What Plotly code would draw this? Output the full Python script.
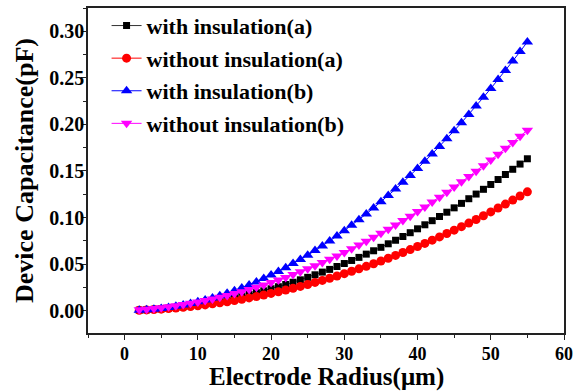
import plotly.graph_objects as go

# Electrode radius (um)
radius = list(range(2, 56))

# Device capacitance (pF)
cap_ins_a = [0.0005, 0.0009, 0.0014, 0.0020, 0.0027, 0.0036, 0.0045, 0.0055, 0.0066, 0.0078,
             0.0092, 0.0106, 0.0121, 0.0138, 0.0155, 0.0173, 0.0193, 0.0213, 0.0235, 0.0257,
             0.0281, 0.0305, 0.0331, 0.0358, 0.0385, 0.0414, 0.0443, 0.0474, 0.0506, 0.0539,
             0.0572, 0.0607, 0.0643, 0.0680, 0.0718, 0.0756, 0.0796, 0.0837, 0.0879, 0.0922,
             0.0966, 0.1011, 0.1057, 0.1104, 0.1152, 0.1202, 0.1252, 0.1303, 0.1355, 0.1408,
             0.1462, 0.1518, 0.1574, 0.1631]
cap_noins_a = [0.0004, 0.0008, 0.0012, 0.0016, 0.0022, 0.0029, 0.0036, 0.0044, 0.0053, 0.0062,
               0.0073, 0.0084, 0.0096, 0.0109, 0.0123, 0.0137, 0.0152, 0.0168, 0.0185, 0.0203,
               0.0221, 0.0240, 0.0260, 0.0281, 0.0303, 0.0325, 0.0348, 0.0372, 0.0397, 0.0423,
               0.0449, 0.0476, 0.0504, 0.0533, 0.0563, 0.0593, 0.0624, 0.0656, 0.0689, 0.0722,
               0.0757, 0.0792, 0.0828, 0.0864, 0.0902, 0.0940, 0.0979, 0.1019, 0.1060, 0.1102,
               0.1144, 0.1187, 0.1231, 0.1276]
cap_ins_b = [0.0004, 0.0009, 0.0015, 0.0024, 0.0034, 0.0047, 0.0061, 0.0077, 0.0095, 0.0115,
             0.0137, 0.0161, 0.0187, 0.0215, 0.0244, 0.0276, 0.0309, 0.0344, 0.0382, 0.0421,
             0.0462, 0.0505, 0.0550, 0.0596, 0.0645, 0.0695, 0.0748, 0.0802, 0.0859, 0.0917,
             0.0977, 0.1039, 0.1103, 0.1169, 0.1236, 0.1306, 0.1378, 0.1451, 0.1526, 0.1604,
             0.1683, 0.1764, 0.1847, 0.1932, 0.2019, 0.2107, 0.2198, 0.2291, 0.2385, 0.2481,
             0.2580, 0.2680, 0.2782, 0.2886]
cap_noins_b = [0.0009, 0.0016, 0.0023, 0.0032, 0.0042, 0.0053, 0.0065, 0.0079, 0.0093, 0.0109,
               0.0126, 0.0144, 0.0163, 0.0183, 0.0204, 0.0227, 0.0251, 0.0276, 0.0302, 0.0329,
               0.0357, 0.0387, 0.0417, 0.0449, 0.0482, 0.0516, 0.0551, 0.0588, 0.0625, 0.0664,
               0.0704, 0.0745, 0.0787, 0.0830, 0.0875, 0.0920, 0.0967, 0.1015, 0.1064, 0.1114,
               0.1166, 0.1218, 0.1272, 0.1327, 0.1383, 0.1440, 0.1498, 0.1557, 0.1618, 0.1680,
               0.1743, 0.1807, 0.1872, 0.1938]

series_names = ["with insulation(a)", "without insulation(a)",
                "with insulation(b)", "without insulation(b)"]

x_title = "Electrode Radius(μm)"
y_title = "Device Capacitance(pF)"

FONT = "Liberation Serif, Times New Roman, serif"
AXIS_COLOR = "#222222"

styles = [
    dict(color="black", line="#333333", symbol="square", size=7),
    dict(color="red", line="red", symbol="circle", size=9),
    dict(color="blue", line="blue", symbol="triangle-up", size=10),
    dict(color="magenta", line="magenta", symbol="triangle-down", size=10),
]

fig = go.Figure()
for i, (name, ys, st) in enumerate(zip(series_names,
                                       [cap_ins_a, cap_noins_a, cap_ins_b, cap_noins_b],
                                       styles)):
    fig.add_trace(go.Scatter(
        x=radius, y=ys, name=name, mode="lines+markers",
        legendgroup=f"g{i}",
        line=dict(color=st["line"], width=1),
        marker=dict(color=st["color"], symbol=st["symbol"], size=st["size"],
                    line=dict(width=0)),
    ))

axis_common = dict(
    showgrid=False, zeroline=False,
    showline=True, linecolor=AXIS_COLOR, linewidth=1.5, mirror=True,
    ticks="outside", ticklen=5, tickwidth=1.2, tickcolor=AXIS_COLOR,
)

fig.update_xaxes(
    range=[-5, 60], tick0=0, dtick=10,
    tickfont=dict(family=FONT, size=18, color="black", weight="bold"),
    ticklabelstandoff=-1,
    minor=dict(ticks="outside", ticklen=3, tickwidth=1.2, tickcolor=AXIS_COLOR, dtick=5, tick0=0),
    **axis_common,
)
fig.update_yaxes(
    range=[-0.024, 0.325], tick0=0, dtick=0.05, tickformat=".2f",
    tickfont=dict(family=FONT, size=20, color="black", weight="bold"),
    ticklabelstandoff=-7,
    minor=dict(ticks="outside", ticklen=3, tickwidth=1.2, tickcolor=AXIS_COLOR, dtick=0.025, tick0=0),
    title=dict(text=y_title, standoff=8,
               font=dict(family=FONT, size=26, color="black", weight="bold")),
    **axis_common,
)

# x-axis title placed just under the tick labels
fig.add_annotation(
    text=x_title, xref="paper", yref="paper", x=0.5, y=-0.136,
    xanchor="center", yanchor="middle", showarrow=False,
    font=dict(family=FONT, size=25, color="black", weight="bold"),
)

fig.update_layout(
    width=585, height=391,
    margin=dict(l=88, r=21, t=5, b=58),
    paper_bgcolor="white", plot_bgcolor="white",
    showlegend=True,
    legend=dict(
        x=0.039, y=1.01, xanchor="left", yanchor="top",
        bgcolor="rgba(0,0,0,0)", borderwidth=0,
        font=dict(family=FONT, size=22, color="black", weight="bold"),
        tracegroupgap=1,
    ),
)

fig.write_html("out.html")
